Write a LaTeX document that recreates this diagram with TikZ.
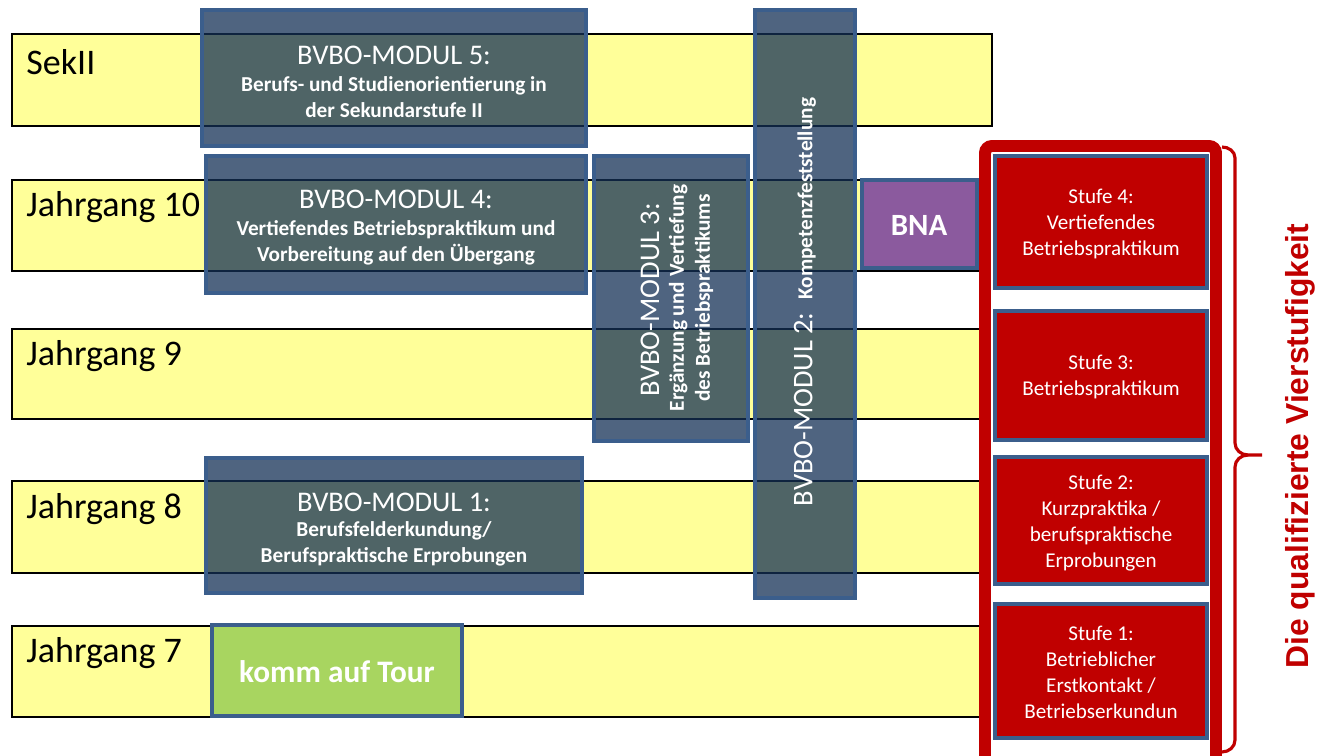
\documentclass[tikz,border=0pt]{standalone}
\usepackage{fontspec}
\setmainfont{Carlito}
\newfontfamily\headfont{Liberation Sans}
\usetikzlibrary{positioning}
\definecolor{barYellow}{RGB}{255,255,153}
\definecolor{modFill}{RGB}{19,47,85}
\definecolor{modBorder}{RGB}{59,94,140}
\definecolor{bnaPurple}{RGB}{139,90,158}
\definecolor{tourGreen}{RGB}{168,213,96}
\definecolor{stufRed}{RGB}{192,0,0}

\begin{document}
\begin{tikzpicture}[x=0.02cm,y=-0.02cm,
    bar/.style={fill=barYellow,draw=black,line width=0.8pt},
    modbox/.style={fill=modFill,fill opacity=0.745,draw=modBorder,line width=2.3pt},
    modtitle/.style={text=white,inner sep=0pt,font=\fontsize{16.2}{19}\selectfont},
    modtext/.style={text=white,inner sep=0pt,align=center,font=\fontsize{12.1}{14.8}\selectfont\bfseries},
    jahr/.style={anchor=west,inner sep=0pt,font=\fontsize{20.5}{24}\selectfont},
    stufbox/.style={fill=stufRed,draw=modBorder,line width=2.3pt},
    stuftext/.style={text=white,inner sep=0pt,align=center,font=\fontsize{12}{14.8}\selectfont}]
  \useasboundingbox (0,0) rectangle (1332,756);
  % Jahrgangsbalken
  \draw[bar] (12,34) rectangle (992,126);
  \draw[bar] (12,180) rectangle (980,271);
  \draw[bar] (12,329) rectangle (980,419);
  \draw[bar] (12,481) rectangle (980,573);
  \draw[bar] (12,626) rectangle (980,717);
  \node[jahr] (sek) at (26,62) {SekII};
  \node[jahr] (j10) at (26,207) {Jahrgang 10};
  \node[jahr] (j9) at (26,356) {Jahrgang 9};
  \node[jahr] (j8) at (26,509) {Jahrgang 8};
  \node[jahr] (j7) at (26,653) {Jahrgang 7};
  % Module
  \draw[modbox] (202,10) rectangle (586,146);
  \node[modtitle] (m5) at (394,55) {BVBO-MODUL 5:};
  \node[modtext] (m5t) at (394,97) {Berufs- und Studienorientierung in\\der Sekundarstufe II};
  \draw[modbox] (206,156) rectangle (586,293);
  \node[modtitle] (m4) at (396,199) {BVBO-MODUL 4:};
  \node[modtext] (m4t) at (396,243) {Vertiefendes Betriebspraktikum und\\Vorbereitung auf den Übergang};
  \draw[modbox] (206,458) rectangle (582,593);
  \node[modtitle] (m1) at (394,502) {BVBO-MODUL 1:};
  \node[modtext] (m1t) at (394,544) {Berufsfelderkundung/\\Berufspraktische Erprobungen};
  \draw[modbox] (594,156) rectangle (748,441);
  \node[modtitle,rotate=90] (m3) at (650,300) {BVBO-MODUL 3:};
  \node[modtext,rotate=90] (m3t) at (691,298) {Ergänzung und Vertiefung\\des Betriebspraktikums};
  \draw[modbox] (755,10) rectangle (855,598);
  \node[modtitle,rotate=90] (m2) at (805,302) {BVBO-MODUL 2:~~{\fontsize{12.1}{14.8}\selectfont\bfseries Kompetenzfeststellung}};
  % BNA und komm auf Tour
  \draw[fill=bnaPurple,draw=modBorder,line width=2.3pt] (862,180) rectangle (977,268);
  \node[text=white,font=\fontsize{17.6}{20}\selectfont\bfseries] (bna) at (919,225) {BNA};
  \draw[fill=tourGreen,draw=modBorder,line width=2.3pt] (212,625) rectangle (462,716);
  \node[text=white,font=\fontsize{17.8}{20}\selectfont\bfseries] (tour) at (337,672) {komm auf Tour};
  % Vierstufigkeit
  \draw[draw=stufRed,fill=white,line width=6.8pt,rounded corners=4pt] (985,146) rectangle (1216,775);
  \draw[stufbox] (995,156) rectangle (1207,288);
  \node[stuftext] (s4) at (1101,224) {Stufe 4:\\Vertiefendes\\Betriebspraktikum};
  \draw[stufbox] (995,311) rectangle (1207,440);
  \node[stuftext] (s3) at (1101,377) {Stufe 3:\\Betriebspraktikum};
  \draw[stufbox] (995,457) rectangle (1207,584);
  \node[stuftext] (s2) at (1101,523) {Stufe 2:\\Kurzpraktika /\\berufspraktische\\Erprobungen};
  \draw[stufbox] (995,604) rectangle (1207,738);
  \node[stuftext] (s1) at (1101,672) {Stufe 1:\\Betrieblicher\\Erstkontakt /\\Betriebserkundun};
  % Klammer
  \draw[stufRed,line width=1.8pt] (1222,147) to[out=0,in=90] (1235,158) -- (1235,443)
    to[out=-90,in=180] (1248,455) -- (1262,455);
  \draw[stufRed,line width=1.8pt] (1248,455) to[out=180,in=90] (1235,467) -- (1235,740)
    to[out=-90,in=0] (1222,752);
  \node[rotate=90,text=stufRed,font=\headfont\fontsize{18.1}{20}\selectfont\bfseries] (vier) at (1300,446) {Die qualifizierte Vierstufigkeit};
\end{tikzpicture}
\end{document}
